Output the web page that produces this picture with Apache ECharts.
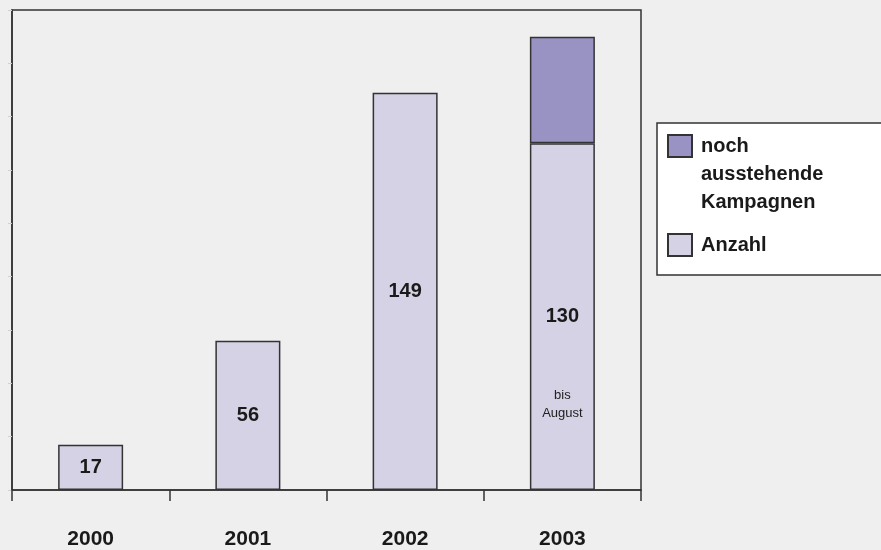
<!DOCTYPE html>
<html>
<head>
<meta charset="utf-8">
<script src="https://cdn.jsdelivr.net/npm/echarts@6/dist/echarts.min.js"></script>
<style>
  html, body { margin: 0; padding: 0; background: #efefef; }
  #chart { width: 881px; height: 550px; }
</style>
</head>
<body>
<div id="chart"></div>
<script>
const years = ["2000", "2001", "2002", "2003"];
const anzahl = [17, 56, 149, 130];
const ausstehend = ["-", "-", "-", 40];
const noteLabel = "bis\nAugust";
const notePos = ["2003", 32];

const nameAnzahl = "Anzahl";
const nameAusstehend = "noch ausstehende Kampagnen";

const chart = echarts.init(document.getElementById("chart"));

const option = {
  backgroundColor: "#efefef",
  animation: false,
  textStyle: { fontFamily: "Liberation Sans, Arial, sans-serif" },
  grid: {
    left: 12,
    right: 240,
    top: 10,
    bottom: 60,
    show: true,
    borderColor: "#333",
    borderWidth: 1.5,
    backgroundColor: "transparent",
  },
  graphic: [
    {
      type: "rect",
      z: 0,
      shape: { x: 657, y: 123, width: 240, height: 152 },
      style: { fill: "#ffffff", stroke: "#333", lineWidth: 1.5 },
    },
  ],
  legend: {
    orient: "vertical",
    left: 667,
    top: 76,
    padding: 0,
    itemWidth: 24,
    itemHeight: 22,
    itemGap: 15,
    icon: "rect",
    data: [nameAusstehend, nameAnzahl],
    // icon sits on the first line: pad the multi-line name with empty lines on top
    formatter: (name) =>
      name === nameAusstehend ? "\n\n" + name.replace(/ /g, "\n") : name,
    textStyle: {
      fontSize: 20,
      fontWeight: "bold",
      color: "#1a1a1a",
      lineHeight: 28,
      padding: [0, 0, 0, 4],
    },
  },
  xAxis: {
    type: "category",
    data: years,
    axisLine: { lineStyle: { color: "#333", width: 1.5 } },
    axisTick: { show: true, length: 11, lineStyle: { color: "#333", width: 1.5 } },
    axisLabel: {
      margin: 39,
      fontSize: 21,
      fontWeight: "bold",
      color: "#1a1a1a",
    },
  },
  yAxis: {
    type: "value",
    min: 0,
    max: 180,
    interval: 20,
    axisLine: { show: true, lineStyle: { color: "#333", width: 1.5 } },
    axisTick: { show: true, length: 4, lineStyle: { color: "#d0d0d0" } },
    axisLabel: { show: false },
    splitLine: { show: false },
  },
  series: [
    {
      name: nameAnzahl,
      type: "bar",
      stack: "total",
      barWidth: 65,
      data: anzahl,
      itemStyle: { color: "#d4d2e4", borderColor: "#333", borderWidth: 1.5 },
      label: {
        show: true,
        position: "inside",
        fontSize: 20,
        fontWeight: "bold",
        color: "#1a1a1a",
      },
      markPoint: {
        symbol: "rect",
        symbolSize: 0,
        data: [{ coord: notePos, value: 0 }],
        label: {
          show: true,
          position: "inside",
          formatter: noteLabel,
          fontSize: 13,
          lineHeight: 18,
          color: "#222",
        },
      },
    },
    {
      name: nameAusstehend,
      type: "bar",
      stack: "total",
      barWidth: 65,
      data: ausstehend,
      itemStyle: { color: "#9893c2", borderColor: "#333", borderWidth: 1.5 },
    },
  ],
};

chart.setOption(option);
</script>
</body>
</html>
